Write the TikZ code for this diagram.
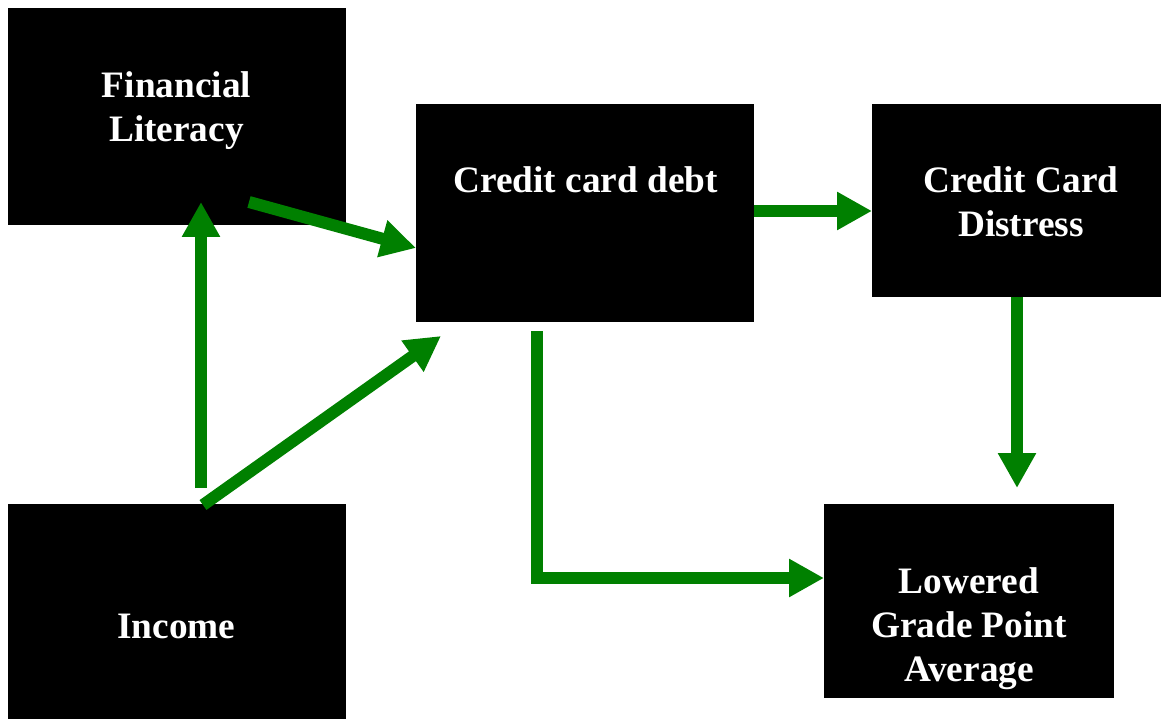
\documentclass[tikz,border=0pt]{standalone}
\usepackage{fontspec}
\setmainfont{Liberation Serif}
\usetikzlibrary{arrows.meta,calc}
\definecolor{arrowgreen}{RGB}{0,128,0}
\tikzset{
  box/.style={rectangle, fill=black, draw=none, inner sep=0pt, outer sep=0pt},
  lbl/.style={text=white, font=\fontsize{37.3}{44}\selectfont\bfseries, anchor=base, inner sep=0pt, outer sep=0pt},
  arr/.style={draw=arrowgreen, line width=12pt, -{Triangle[length=35pt,width=36pt]}}
}
\begin{document}
\begin{tikzpicture}[x=1pt,y=-1pt]
\useasboundingbox (0,0) rectangle (1161,719);
% boxes
\node[box, minimum width=338pt, minimum height=217pt] (fl)  at (177,116.5) {};
\node[box, minimum width=338pt, minimum height=218pt] (ccd) at (585,213) {};
\node[box, minimum width=289pt, minimum height=193pt] (dis) at (1016.5,200.5) {};
\node[box, minimum width=338pt, minimum height=215pt] (inc) at (177,611.5) {};
\node[box, minimum width=290pt, minimum height=194pt] (gpa) at (969,601) {};
% labels
\node[lbl] (fltxt)  at (176.5,97.7) {\begin{tabular}[t]{@{}c@{}}Financial\\Literacy\end{tabular}};
\node[lbl] (ccdtxt) at (585.5,193) {Credit card debt};
\node[lbl] (distxt) at (1021,193) {\begin{tabular}[t]{@{}c@{}}Credit Card\\Distress\end{tabular}};
\node[lbl] (inctxt) at (176.5,638) {Income};
\node[lbl] (gpatxt) at (969,593) {\begin{tabular}[t]{@{}c@{}}Lowered\\Grade Point\\Average\end{tabular}};
% arrows
\draw[arr] ($(inc.north)+(24,-16)$) -- ($(fl.south)+(24,-23)$);
\draw[arr] ($(inc.north)+(26,1)$) -- ($(ccd.south west)+(25,14)$);
\draw[arr] ($(fl.south)+(72,-23)$) -- ($(ccd.west)+(0,35)$);
\draw[arr] ($(ccd.east)+(0,-2)$) -- ($(dis.west)+(0,10.5)$);
\draw[arr] ($(dis.south)+(0.5,0)$) -- ($(gpa.north)+(48,-16)$);
\draw[arr] ($(ccd.south)+(-48,9)$) |- ($(gpa.west)+(0,-23)$);
\end{tikzpicture}
\end{document}
